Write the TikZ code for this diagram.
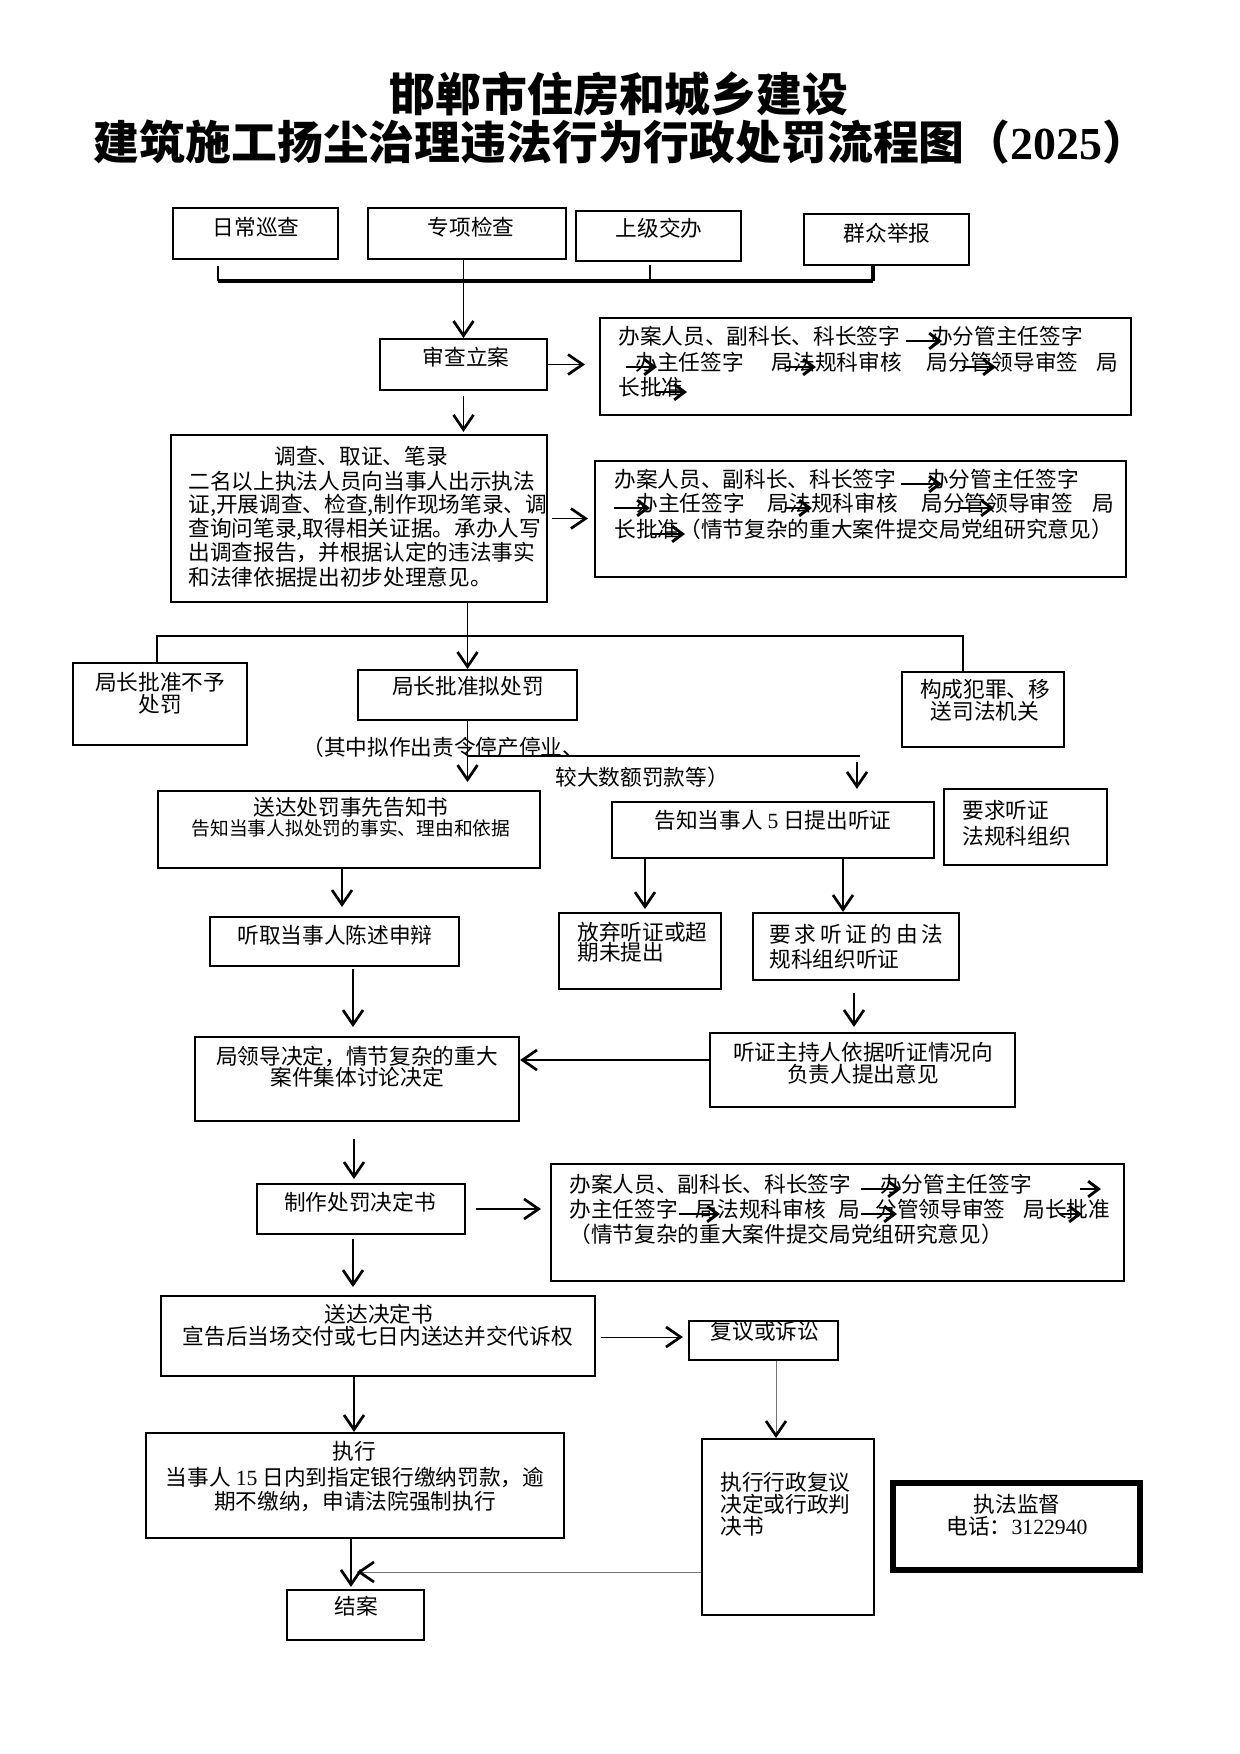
\documentclass[tikz,border=0pt]{standalone}
\usepackage{fontspec}
\setmainfont{Noto Sans CJK SC}
\newfontfamily\digitfont{Liberation Serif}
\usetikzlibrary{arrows.meta,fit}
\newcommand\fs{\fontsize{10.4pt}{12.5pt}\selectfont}
\newcommand\fss{\fontsize{9pt}{11pt}\selectfont}
\newcommand\ftl{\fontsize{22pt}{26pt}\selectfont\bfseries}
\begin{document}
\begin{tikzpicture}[x=0.48pt,y=-0.48pt,
  box/.style={draw,line width=1pt,inner sep=0pt},
  heavybox/.style={draw,line width=2.9pt,inner sep=0pt},
  txt/.style={inner sep=0pt,text height=0.88em,text depth=0.12em,font=\fs},
  stxt/.style={inner sep=0pt,text height=0.88em,text depth=0.12em,font=\fss},
  ttxt/.style={inner sep=0pt,text height=0.88em,text depth=0.12em,font=\ftl},
  conn/.style={line width=0.7pt,-{Straight Barb[length=7pt,width=9.6pt,line width=1.3pt]}},
  fconn/.style={line width=0.45pt,draw=black!55,-{Straight Barb[length=7pt,width=9.6pt,line width=1.3pt,color=black]}},
  kconn/.style={line width=0.45pt,-{Straight Barb[length=7pt,width=9.6pt,line width=1.3pt]}},
  inarr/.style={line width=0.5pt,-{Straight Barb[length=5pt,width=7.5pt,line width=1.4pt]}},
  link/.style={line width=0.7pt}]
\fill[white] (0,0) rectangle (1240,1754);
\useasboundingbox (0,0) rectangle (1240,1754);

% title
\node[ttxt] (title1) at (619,104) {邯郸市住房和城乡建设};
\node[ttxt] (title2) at (621,152) {建筑施工扬尘治理违法行为行政处罚流程图（{\digitfont\bfseries 2025}）};

% boxes
\node[box,fit={(173,208)(338,259)}] (richang) {};
\node[box,fit={(368,208)(566,259)}] (zhuanxiang) {};
\node[box,fit={(576,211)(741,261)}] (shangji) {};
\node[box,fit={(804,214)(969,265)}] (qunzhong) {};
\node[box,fit={(380,339)(547,390)}] (shencha) {};
\node[box,fit={(600,318)(1131,415)}] (box1) {};
\node[box,fit={(171,435)(547,602)}] (diaocha) {};
\node[box,fit={(595,461)(1126,577)}] (box2) {};
\node[box,fit={(73,663)(247,745)}] (buyu) {};
\node[box,fit={(358,670)(577,720)}] (nichufa) {};
\node[box,fit={(902,672)(1064,747)}] (fanzui) {};
\node[box,fit={(158,791)(540,868)}] (songda1) {};
\node[box,fit={(612,802)(934,858)}] (gaozhi) {};
\node[box,fit={(944,789)(1107,865)}] (yaoqiu1) {};
\node[box,fit={(210,917)(459,966)}] (tingqu) {};
\node[box,fit={(559,913)(721,989)}] (fangqi) {};
\node[box,fit={(753,913)(959,980)}] (yaoqiu2) {};
\node[box,fit={(195,1037)(519,1121)}] (juling) {};
\node[box,fit={(710,1033)(1015,1107)}] (zhuchi) {};
\node[box,fit={(257,1184)(465,1234)}] (zhizuo) {};
\node[box,fit={(551,1164)(1124,1281)}] (box3) {};
\node[box,fit={(161,1296)(595,1376)}] (songda2) {};
\node[box,fit={(689,1321)(838,1360)}] (fuyi) {};
\node[box,fit={(146,1433)(564,1538)}] (zhixing) {};
\node[box,fit={(702,1439)(874,1615)}] (zhixingfy) {};
\node[heavybox,fit={(893,1483)(1140,1570)}] (jiandu) {};
\node[box,fit={(287,1590)(424,1640)}] (jiean) {};

% texts
\node[txt] (t01) at (256,228) {日常巡查};
\node[txt] (t02) at (471,228) {专项检查};
\node[txt] (t03) at (659,229) {上级交办};
\node[txt] (t04) at (887,234) {群众举报};
\node[txt] (t05) at (466,358) {审查立案};

\node[txt,anchor=west] (t11) at (618,337) {办案人员、副科长、科长签字\hspace{1.43em}办分管主任签字};
\node[txt,anchor=west] (t12) at (635,363) {办主任签字\hspace{1.3em}局法规科审核\hspace{1.15em}局分管领导审签\hspace{0.85em}局};
\node[txt,anchor=west] (t13) at (618,388) {长批准};

\node[txt] (t20) at (361,457) {调查、取证、笔录};
\node[txt,anchor=west] (t21) at (188,482) {二名以上执法人员向当事人出示执法};
\node[txt,anchor=west] (t22) at (188,505) {证,开展调查、检查,制作现场笔录、调};
\node[txt,anchor=west] (t23) at (188,529) {查询问笔录,取得相关证据。承办人写};
\node[txt,anchor=west] (t24) at (188,553) {出调查报告，并根据认定的违法事实};
\node[txt,anchor=west] (t25) at (188,578) {和法律依据提出初步处理意见。};

\node[txt,anchor=west] (t31) at (614,480) {办案人员、副科长、科长签字\hspace{1.43em}办分管主任签字};
\node[txt,anchor=west] (t32) at (636,504) {办主任签字\hspace{1.06em}局法规科审核\hspace{1.1em}局分管领导审签\hspace{0.88em}局};
\node[txt,anchor=west] (t33) at (614,530) {长批准（情节复杂的重大案件提交局党组研究意见）};

\node[txt] (t41) at (160,683) {局长批准不予};
\node[txt] (t42) at (160,705) {处罚};
\node[txt] (t43) at (468,687) {局长批准拟处罚};
\node[txt] (t44) at (985,690) {构成犯罪、移};
\node[txt] (t45) at (985,712) {送司法机关};
\node[txt,anchor=west] (t46) at (302,748) {（其中拟作出责令停产停业、};
\node[txt,anchor=west] (t47) at (555,778) {较大数额罚款等）};

\node[txt] (t51) at (351,808) {送达处罚事先告知书};
\node[stxt] (t52) at (351,828) {告知当事人拟处罚的事实、理由和依据};
\node[txt] (t53) at (773,821) {告知当事人 {\digitfont 5} 日提出听证};
\node[txt,anchor=west] (t54) at (962,811) {要求听证};
\node[txt,anchor=west] (t55) at (962,837) {法规科组织};

\node[txt] (t61) at (335,936) {听取当事人陈述申辩};
\node[txt,anchor=west] (t62) at (577,933) {放弃听证或超};
\node[txt,anchor=west] (t63) at (577,953) {期未提出};
\node[txt,anchor=west] (t64) at (769,935) {要\hspace{0.17em}求\hspace{0.17em}听\hspace{0.17em}证\hspace{0.17em}的\hspace{0.17em}由\hspace{0.17em}法};
\node[txt,anchor=west] (t65) at (769,960) {规科组织听证};

\node[txt] (t71) at (357,1057) {局领导决定，情节复杂的重大};
\node[txt] (t72) at (357,1078) {案件集体讨论决定};
\node[txt] (t73) at (863,1053) {听证主持人依据听证情况向};
\node[txt] (t74) at (863,1075) {负责人提出意见};

\node[txt] (t81) at (360,1203) {制作处罚决定书};
\node[txt,anchor=west] (t82) at (569,1185) {办案人员、副科长、科长签字\hspace{1.34em}办分管主任签字};
\node[txt,anchor=west] (t83) at (569,1210) {办主任签字\hspace{0.83em}局法规科审核\hspace{0.6em}局\hspace{0.7em}分管领导审签\hspace{0.83em}局长批准};
\node[txt,anchor=west] (t84) at (569,1235) {（情节复杂的重大案件提交局党组研究意见）};

\node[txt] (t91) at (379,1315) {送达决定书};
\node[txt] (t92) at (378,1337) {宣告后当场交付或七日内送达并交代诉权};
\node[txt] (t93) at (765,1332) {复议或诉讼};
\node[txt] (t94) at (354,1452) {执行};
\node[txt] (t95) at (355,1478) {当事人 {\digitfont 15} 日内到指定银行缴纳罚款，逾};
\node[txt] (t96) at (355,1502) {期不缴纳，申请法院强制执行};
\node[txt,anchor=west] (t97) at (720,1483) {执行行政复议};
\node[txt,anchor=west] (t98) at (720,1505) {决定或行政判};
\node[txt,anchor=west] (t99) at (720,1527) {决书};
\node[txt] (t100) at (1017,1505) {执法监督};
\node[txt] (t101) at (1017,1527) {电话：{\digitfont 3122940}};
\node[txt] (t102) at (356,1607) {结案};

% arrows inside the approval boxes
\draw[inarr] (906,341) -- (942,341);
\draw[inarr] (626,367) -- (657,367);
\draw[inarr] (785,367) -- (816,367);
\draw[inarr] (962,367) -- (996,367);
\draw[inarr] (655,392) -- (687,392);
\draw[inarr] (901,484) -- (942,484);
\draw[inarr] (614,508) -- (650,508);
\draw[inarr] (785,508) -- (812,508);
\draw[inarr] (958,508) -- (994,508);
\draw[inarr] (650,534) -- (685,534);
\draw[inarr] (861,1189) -- (901,1189);
\draw[inarr] (1080,1189) -- (1101,1189);
\draw[inarr] (679,1214) -- (720,1214);
\draw[inarr] (861,1214) -- (897,1214);
\draw[inarr] (1060,1214) -- (1082,1214);

% helper coordinates
\coordinate (bL) at (218,281);
\coordinate (bR) at (873,281);
\coordinate (t1top) at (218,266);
\coordinate (t3top) at (650,265);
\coordinate (brL) at (157,636);
\coordinate (brR) at (963,636);
\coordinate (hR) at (860,756);
\coordinate (hA) at (857,762);
\coordinate (v342) at (342,0);
\coordinate (v645) at (645,0);
\coordinate (v843) at (843,0);
\coordinate (v353) at (353,0);
\coordinate (v854) at (854,0);
\coordinate (v354) at (354,0);
\coordinate (v351) at (351,0);
\coordinate (v776) at (776,0);
\coordinate (h1060) at (0,1060);
\coordinate (h1209) at (0,1209);
\coordinate (h1337) at (0,1337);
\coordinate (e22) at (357,1572);

% connectors
\draw[line width=1.5pt] (bL) -- (bR);
\draw[link] (t1top) -- (bL);
\draw[line width=0.5pt] (t3top) -- (t3top |- bL);
\draw[line width=1.8pt] (bR |- qunzhong.south) -- (bR);
\draw[conn] (shencha.north |- zhuanxiang.south) -- (shencha.north);
\draw[conn,shorten >=6.7pt] (shencha.east) -- (shencha.east -| box1.west);
\draw[conn,shorten <=2.4pt,shorten >=1pt] (shencha.south) -- (shencha.south |- diaocha.north);
\draw[conn,shorten <=2pt,shorten >=2.9pt] (diaocha.east) -- (diaocha.east -| box2.west);
\draw[conn] (nichufa.north |- diaocha.south) -- (nichufa.north);
\draw[link] (buyu.north -| brL) -- (brL) -- (brR) -- (brR |- fanzui.north);
\draw[conn,line width=0.9pt,shorten >=3.8pt] (nichufa.south) -- (nichufa.south |- songda1.north);
\draw[link] (nichufa.south |- hR) -- (hR);
\draw[conn,shorten >=5.8pt] (hA) -- (hA |- gaozhi.north);
\draw[conn,shorten >=4.3pt] (songda1.south -| v342) -- (v342 |- tingqu.north);
\draw[conn,shorten >=1.4pt] (gaozhi.south -| v645) -- (v645 |- fangqi.north);
\draw[conn] (gaozhi.south -| v843) -- (v843 |- yaoqiu2.north);
\draw[conn,shorten <=1pt,shorten >=4.3pt] (tingqu.south -| v353) -- (v353 |- juling.north);
\draw[conn,shorten <=5.8pt,shorten >=2.4pt] (yaoqiu2.south -| v854) -- (v854 |- zhuchi.north);
\draw[conn] (zhuchi.west |- h1060) -- (juling.east |- h1060);
\draw[conn,shorten <=8.2pt,shorten >=1.9pt] (juling.south -| v354) -- (v354 |- zhizuo.north);
\draw[conn,shorten <=4.8pt,shorten >=4.3pt] (zhizuo.east |- h1209) -- (box3.west |- h1209);
\draw[conn,shorten <=1.9pt,shorten >=3.8pt] (zhizuo.south -| v353) -- (v353 |- songda2.north);
\draw[kconn,shorten <=2.4pt,shorten >=2.4pt] (songda2.east |- h1337) -- (fuyi.west |- h1337);
\draw[fconn] (fuyi.south -| v776) -- (v776 |- zhixingfy.north);
\draw[conn] (songda2.south -| v354) -- (v354 |- zhixing.north);
\draw[conn,shorten >=1pt] (zhixing.south -| v351) -- (v351 |- jiean.north);
\draw[fconn] (zhixingfy.west |- e22) -- (e22);
\end{tikzpicture}
\end{document}
